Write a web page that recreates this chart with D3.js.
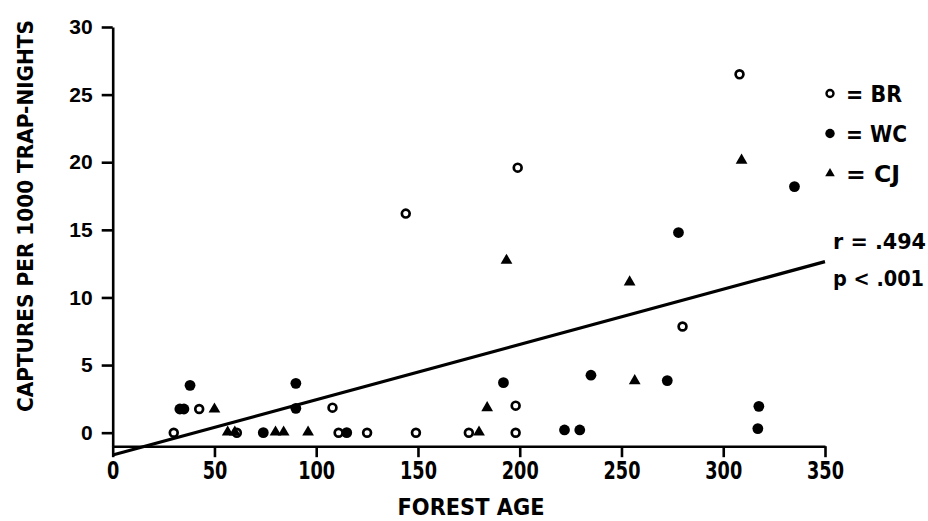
<!DOCTYPE html>
<html>
<head>
<meta charset="utf-8">
<script src="https://cdn.jsdelivr.net/npm/d3@7"></script>
<style>
  body { margin: 0; background: #fff; }
  text { fill: #000; }
</style>
</head>
<body>
<div id="chart"></div>
<script>
// forest age vs captures, three sites
const brAge = [30, 42.5, 61, 108, 111, 125, 144, 149, 175, 198, 198, 199, 280, 308];
const brCaptures = [0, 1.75, 0, 1.85, 0, 0, 16.2, 0, 0, 2.0, 0, 19.6, 7.85, 26.5];

const wcAge = [33, 35, 38, 74, 90, 90, 115, 192, 222, 229.5, 235, 272.5, 278, 317.5, 317, 335];
const wcCaptures = [1.75, 1.75, 3.5, 0, 3.65, 1.8, 0, 3.7, 0.2, 0.2, 4.25, 3.85, 14.8, 1.95, 0.3, 18.2];

const cjAge = [50, 56.5, 60, 80, 84, 96, 180, 184, 193.5, 254, 256.5, 309];
const cjCaptures = [1.7, 0, 0, 0, 0, 0, 0, 1.8, 12.7, 11.1, 3.8, 20.1];

// regression line end points (age, captures)
const fitAge = [0, 350];
const fitCaptures = [-1.65, 12.65];

const xTicks = [0, 50, 100, 150, 200, 250, 300, 350];
const yTicks = [0, 5, 10, 15, 20, 25, 30];

const legendLabels = ["BR", "WC", "CJ"];
const statLabels = ["r = .494", "p < .001"];

const width = 928, height = 521;
const narrow = "'DejaVu Sans Condensed', 'Liberation Sans', sans-serif";

const svg = d3.select("#chart")
    .append("svg")
    .attr("width", width)
    .attr("height", height);

const x = d3.scaleLinear()
    .domain([0, 350])
    .range([112.7, 825]);

const y = d3.scaleLinear()
    .domain([-1, 30])
    .range([446.2, 27]);

// x axis
const xAxis = svg.append("g")
    .attr("transform", `translate(0,${y(-1)})`)
    .call(d3.axisBottom(x).tickValues(xTicks).tickSize(11).tickSizeOuter(0).tickPadding(5));
xAxis.selectAll("path, line").attr("stroke", "#000").attr("stroke-width", 2.6);
xAxis.selectAll("text")
    .style("font-family", narrow)
    .style("font-size", "24px")
    .style("font-weight", "bold")
    .attr("fill", "#000")
    .each(function() {
        const n = this.textContent.length;
        d3.select(this).attr("textLength", n * 12.3).attr("lengthAdjust", "spacingAndGlyphs");
    });

// y axis
const yAxis = svg.append("g")
    .attr("transform", `translate(${x(0)},0)`)
    .call(d3.axisLeft(y).tickValues(yTicks).tickSize(11).tickSizeOuter(0).tickPadding(9));
yAxis.selectAll("path, line").attr("stroke", "#000").attr("stroke-width", 2.6);
yAxis.selectAll("text")
    .style("font-family", "'Liberation Sans', sans-serif")
    .style("font-size", "21px")
    .style("font-weight", "bold")
    .attr("fill", "#000");

// axis titles
svg.append("text")
    .attr("x", 471)
    .attr("y", 515)
    .attr("text-anchor", "middle")
    .attr("textLength", 147)
    .attr("lengthAdjust", "spacingAndGlyphs")
    .style("font-family", narrow)
    .style("font-size", "23px")
    .style("font-weight", "bold")
    .text("FOREST AGE");

svg.append("text")
    .attr("transform", "rotate(-90)")
    .attr("x", -216)
    .attr("y", 33)
    .attr("text-anchor", "middle")
    .attr("textLength", 392)
    .attr("lengthAdjust", "spacingAndGlyphs")
    .style("font-family", narrow)
    .style("font-size", "22px")
    .style("font-weight", "bold")
    .text("CAPTURES PER 1000 TRAP-NIGHTS");

// regression line
svg.append("line")
    .attr("x1", x(fitAge[0]))
    .attr("y1", y(fitCaptures[0]))
    .attr("x2", x(fitAge[1]))
    .attr("y2", y(fitCaptures[1]))
    .attr("stroke", "#000")
    .attr("stroke-width", 3.2);

// points
const br = brAge.map((a, i) => ({ age: a, c: brCaptures[i] }));
const wc = wcAge.map((a, i) => ({ age: a, c: wcCaptures[i] }));
const cj = cjAge.map((a, i) => ({ age: a, c: cjCaptures[i] }));

svg.append("g").selectAll("circle")
    .data(wc)
    .enter()
    .append("circle")
    .attr("cx", d => x(d.age))
    .attr("cy", d => y(d.c))
    .attr("r", 5.4)
    .attr("fill", "#000");

svg.append("g").selectAll("circle")
    .data(br)
    .enter()
    .append("circle")
    .attr("cx", d => x(d.age))
    .attr("cy", d => y(d.c))
    .attr("r", 3.9)
    .attr("fill", "#fff")
    .attr("stroke", "#000")
    .attr("stroke-width", 2.7);

const tri = d3.symbol().type(d3.symbolTriangle).size(60);
svg.append("g").selectAll("path")
    .data(cj)
    .enter()
    .append("path")
    .attr("transform", d => `translate(${x(d.age)},${y(d.c) - 0.5})`)
    .attr("d", tri)
    .attr("fill", "#000");

// legend
const legendY = [93.5, 133.5, 173.5];
const lg = svg.append("g");
lg.append("circle").attr("cx", 830).attr("cy", legendY[0]).attr("r", 3.5)
    .attr("fill", "#fff").attr("stroke", "#000").attr("stroke-width", 2.4);
lg.append("circle").attr("cx", 830).attr("cy", legendY[1]).attr("r", 4.7).attr("fill", "#000");
lg.append("path").attr("transform", `translate(830,${legendY[2]})`)
    .attr("d", d3.symbol().type(d3.symbolTriangle).size(40)).attr("fill", "#000");

lg.selectAll("text")
    .data(legendLabels)
    .enter()
    .append("text")
    .attr("x", 846)
    .attr("y", (d, i) => legendY[i] + 8.5)
    .attr("textLength", (d, i) => [56, 61, 54][i])
    .attr("lengthAdjust", "spacingAndGlyphs")
    .style("font-family", narrow)
    .style("font-size", "23px")
    .style("font-weight", "bold")
    .text(d => "=  " + d);

// statistics
svg.selectAll(".stat")
    .data(statLabels)
    .enter()
    .append("text")
    .attr("class", "stat")
    .attr("x", 833)
    .attr("y", (d, i) => [248.5, 286][i])
    .attr("textLength", (d, i) => [93, 91][i])
    .attr("lengthAdjust", "spacingAndGlyphs")
    .style("font-family", narrow)
    .style("font-size", "22px")
    .style("font-weight", "bold")
    .text(d => d);
</script>
</body>
</html>
